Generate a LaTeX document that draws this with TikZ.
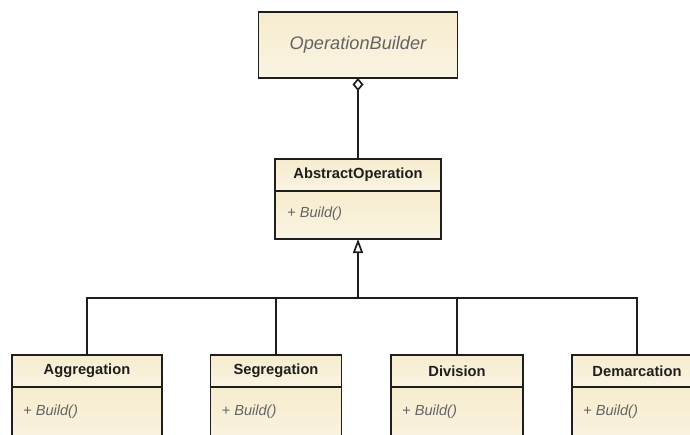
\documentclass[tikz,border=0pt]{standalone}
\usepackage{fontspec}
\setmainfont{Liberation Sans}
\usetikzlibrary{arrows.meta,calc}
\definecolor{creamtop}{RGB}{246,236,206}
\definecolor{creambot}{RGB}{250,244,226}
\definecolor{edge}{RGB}{30,30,30}
\definecolor{optext}{RGB}{100,100,100}
\tikzset{
  umlbox/.style={draw=edge, line width=1.8pt, top color=creamtop, bottom color=creambot,
    inner sep=0pt, outer sep=0pt},
  classhead/.style={umlbox, minimum height=32pt, font=\fontsize{14.7}{17}\selectfont\bfseries, text=edge},
  classbody/.style={umlbox, anchor=north},
  optxt/.style={anchor=west, inner sep=0pt, text=optext, font=\fontsize{14.6}{17}\selectfont\itshape},
  link/.style={draw=edge, line width=1.8pt},
}
\begin{document}
\begin{tikzpicture}[x=1pt, y=-1pt]
\useasboundingbox (0,0) rectangle (690,434);
\clip (0,0) rectangle (690,434);
\fill[white] (0,0) rectangle (690,434);

% builder
\node[umlbox, minimum width=199pt, minimum height=66pt, text=optext,
      font=\fontsize{18.2}{22}\selectfont\itshape] (ob) at (358,45) {OperationBuilder};

% abstract product
\node[classhead, minimum width=166pt] (ao) at (358,175) {AbstractOperation};
\node[classbody, minimum width=166pt, minimum height=48pt] (aob) at (ao.south) {};
\node[optxt] (aoop) at ($(aob.west)+(12,-1)$) {+ Build()};

% concrete products
\foreach \n/\t/\x/\w in {agg/Aggregation/87/150, seg/Segregation/276/131,
                         div/Division/457/132, dem/Demarcation/637/130}{
  \node[classhead, minimum width=\w pt] (\n) at (\x,371) {\t};
  \node[classbody, minimum width=\w pt, minimum height=60pt] (\n b) at (\n.south) {};
  \node[optxt] (\n op) at ($(\n b.north west)+(11,24.5)$) {+ Build()};
}

% aggregation from builder to abstract operation
\draw[link, {Diamond[open, length=13pt, width=11pt, line width=1.7pt]}-] (ob.south) -- (ao.north);

% generalisation tree
\coordinate (bar) at (358,298);
\draw[link, -{Triangle[open, length=14pt, width=10pt, line width=1.7pt]}] (bar) -- (aob.south);
\draw[link] (agg.north) |- (bar) -| (dem.north);
\draw[link] (seg.north) -- (seg.north |- bar);
\draw[link] (div.north) -- (div.north |- bar);
\end{tikzpicture}
\end{document}
